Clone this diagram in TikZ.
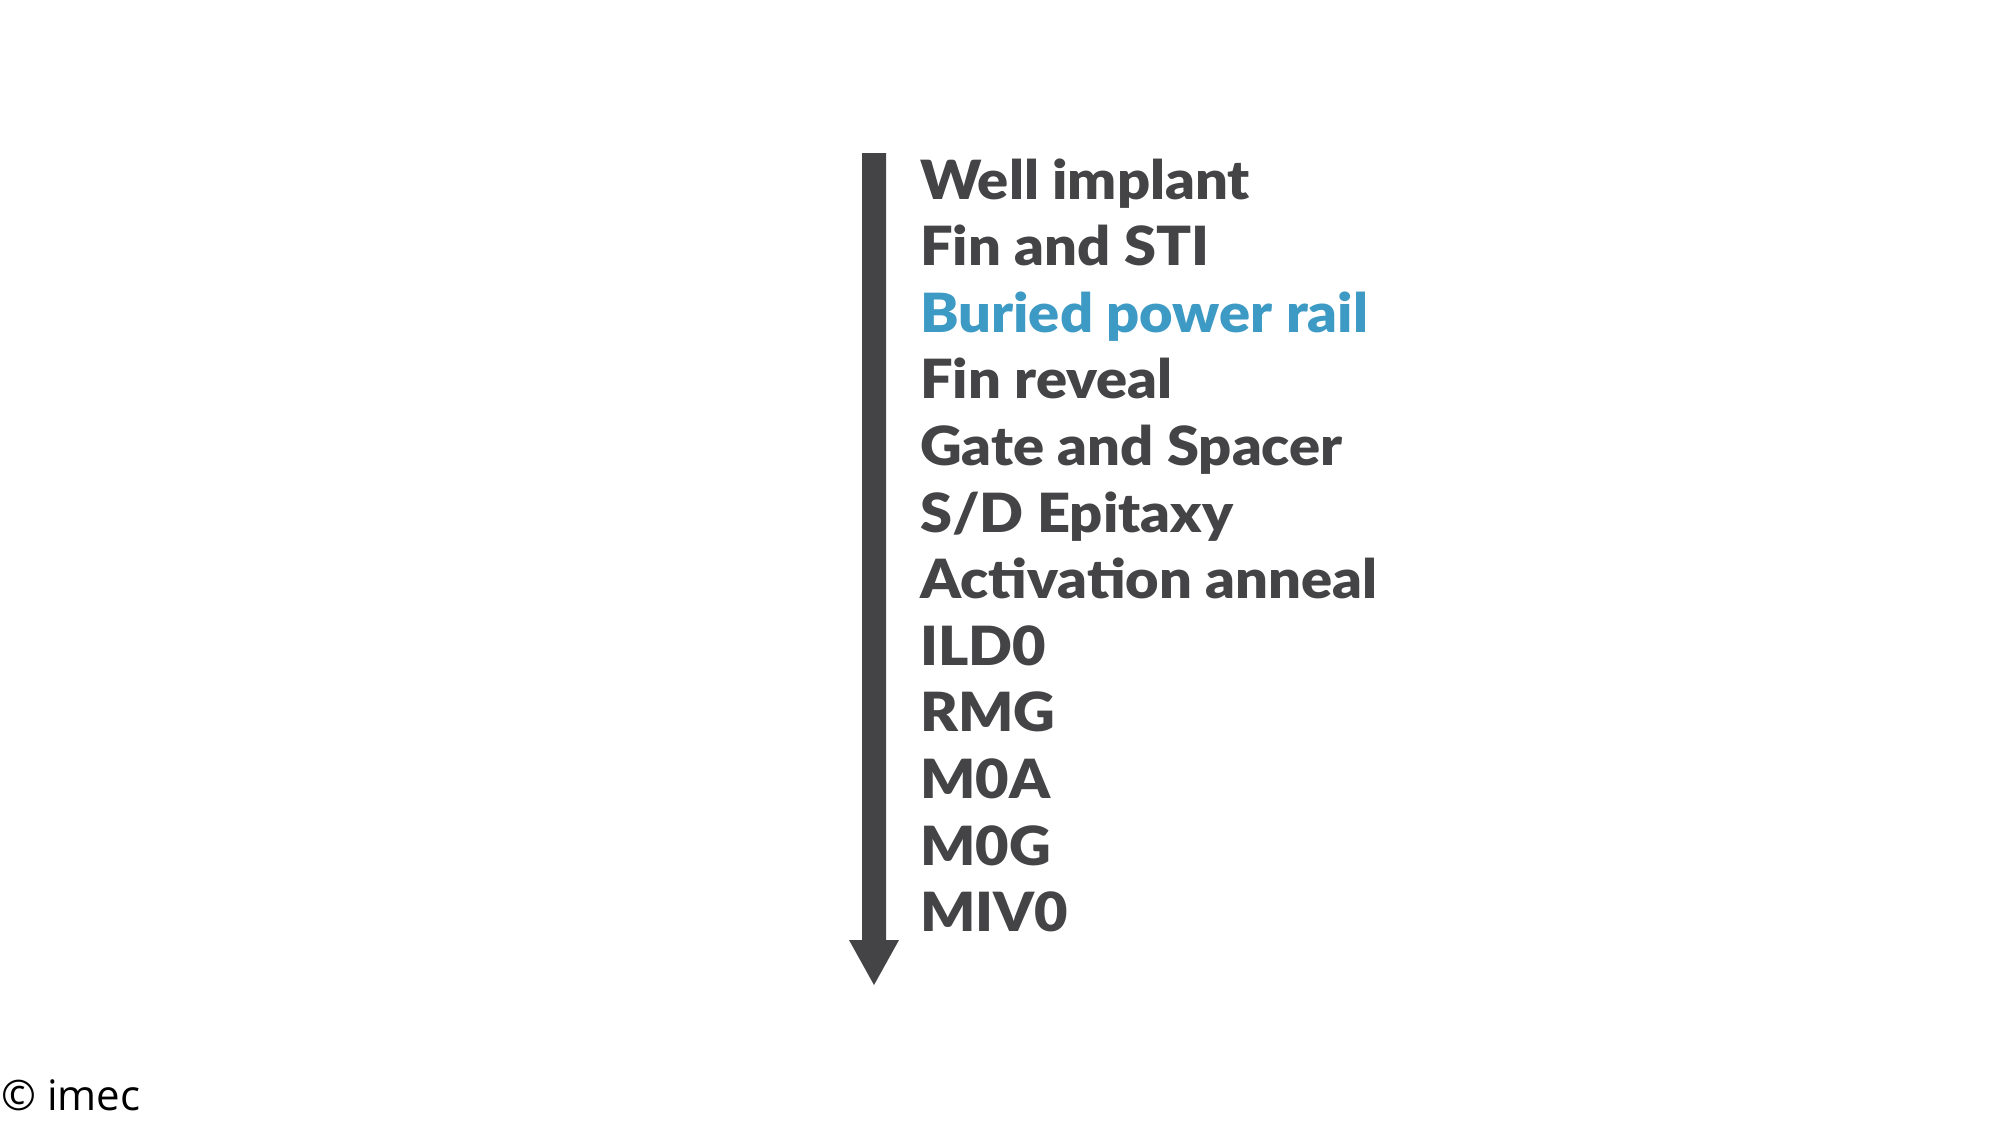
\documentclass[tikz,border=0pt]{standalone}
\usepackage{fontspec}
\setmainfont{Lato}
\newfontfamily\stepfont{Lato}[UprightFont=* Black, FakeStretch=1.07]
\newfontfamily\notefont{Open Sans}
\definecolor{stepgray}{HTML}{444446}
\definecolor{stepblue}{HTML}{3C9AC4}
\tikzset{
  steptext/.style={anchor=base west, inner sep=0pt, text=stepgray, font=\stepfont\fontsize{54}{60}\selectfont},
  hilite/.style={text=stepblue}
}
\begin{document}
\begin{tikzpicture}[x=1pt,y=-1pt]
\useasboundingbox (0,0) rectangle (2000,1125);
\fill[white] (0,0) rectangle (2000,1125);
% arrow
\coordinate (atop) at (874,153);
\coordinate (abase) at (874,940);
\coordinate (atip) at (874,985);
\fill[stepgray] ([xshift=-12pt]atop) -- ([xshift=12pt]atop) -- ([xshift=12pt]abase) -- ([xshift=25pt]abase) -- (atip) -- ([xshift=-25pt]abase) -- ([xshift=-12pt]abase) -- cycle;
% steps
\node[steptext] (s1) at (920,199) {Well implant};
\node[steptext] (s2) at (920,265.6) {Fin and STI};
\node[steptext,hilite] (s3) at (920,332.2) {Buried power rail};
\node[steptext] (s4) at (920,398.8) {Fin reveal};
\node[steptext] (s5) at (920,465.4) {Gate and Spacer};
\node[steptext] (s6) at (920,532) {S/D Epitaxy};
\node[steptext] (s7) at (920,598.6) {Activation anneal};
\node[steptext] (s8) at (920,665.2) {ILD0};
\node[steptext] (s9) at (920,731.8) {RMG};
\node[steptext] (s10) at (920,798.4) {M0A};
\node[steptext] (s11) at (920,865) {M0G};
\node[steptext] (s12) at (920,931.6) {MIV0};
\node[anchor=base west, inner sep=0pt, font=\notefont\fontsize{42}{46}\selectfont] (copy) at (1,1110) {© imec};
\end{tikzpicture}
\end{document}
